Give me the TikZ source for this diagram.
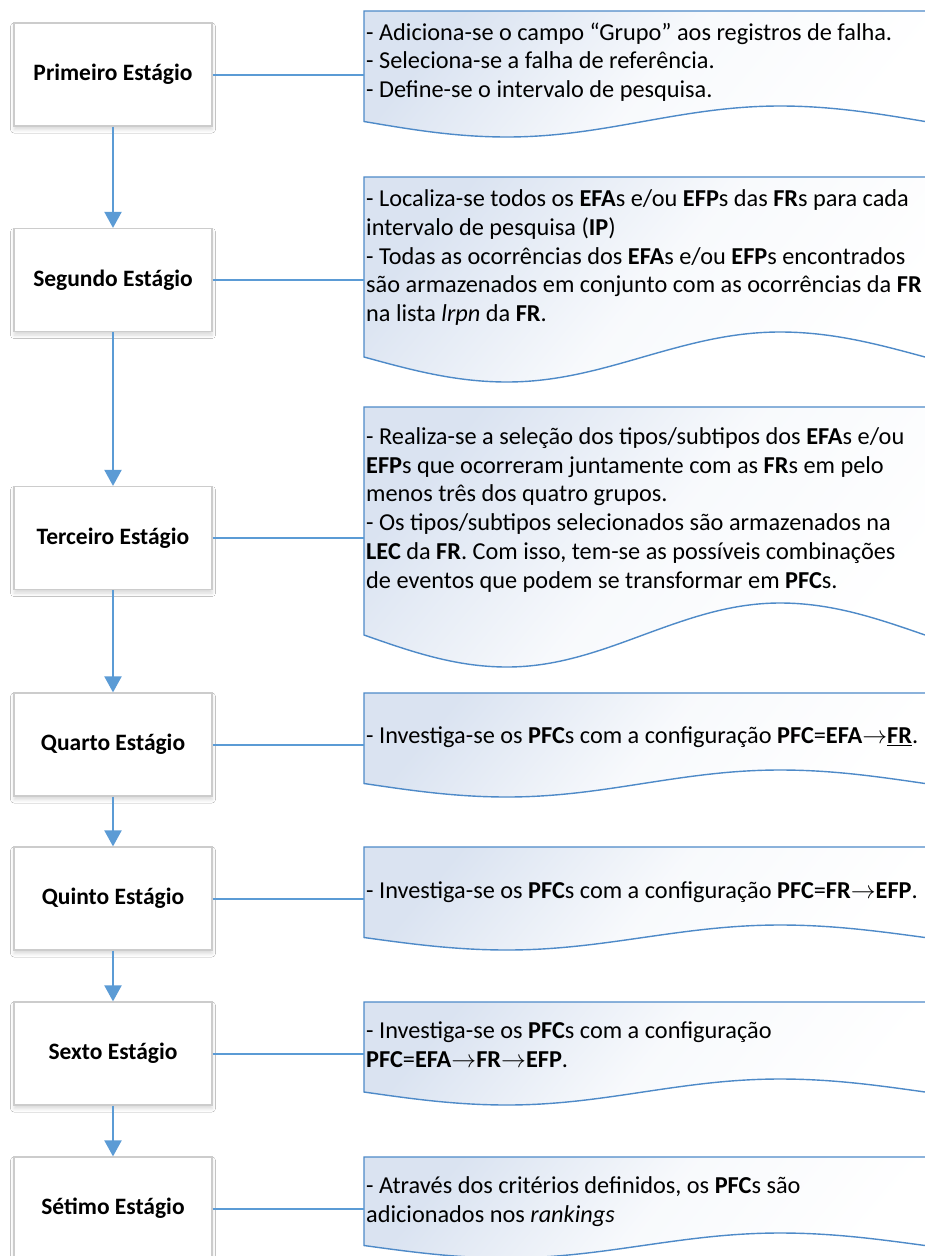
\documentclass[tikz,border=0pt]{standalone}
\usepackage{fontspec}
\setmainfont{Carlito}
\usetikzlibrary{arrows.meta,shadows.blur}
\definecolor{lineblue}{RGB}{91,155,213}
\definecolor{edgeblue}{RGB}{78,138,200}
\definecolor{boxgray}{RGB}{204,204,204}
\definecolor{fillblue}{RGB}{218,227,241}
\newcommand{\notebody}[3]{% top, mid, amplitude
  \path[note] (364,#2) -- (364,#1) -- (945,#1) -- (945,#2) -- (925,#2)
    sin (780,#2-#3) cos (643,#2) sin (507,#2+#3) cos (364,#2) -- cycle;}
\newcommand{\rarr}{$\rightarrow$}
\begin{document}
\begin{tikzpicture}[x=1pt,y=-1pt,
  stage/.style={draw=boxgray, line width=1.2pt, fill=white,
    minimum width=198pt, minimum height=103pt, inner sep=0pt,
    font=\fontsize{23.5}{28}\selectfont\bfseries,
    blur shadow={shadow xshift=0pt, shadow yshift=-3.5pt, shadow blur radius=3.5pt, shadow opacity=15}},
  conn/.style={draw=lineblue, line width=2pt},
  flow/.style={conn, -{Triangle[width=17pt,length=16pt]}},
  note/.style={draw=edgeblue, line width=1.4pt, shading=axis,
    top color=fillblue, bottom color=white, middle color=white!80!fillblue, shading angle=50},
  notetext/.style={anchor=base west, align=left, inner sep=0pt,
    font=\fontsize{24.3}{28.8}\selectfont}
]
\useasboundingbox (0,0) rectangle (925,1256);
\fill[white] (0,0) rectangle (925,1256);
\clip (0,0) rectangle (925,1256);

% callout shapes
\notebody{11}{121.5}{15.5}
\notebody{177}{357}{25}
\notebody{407}{635}{32}
\notebody{693}{783.5}{13.5}
\notebody{847}{937.5}{12.5}
\notebody{1002}{1092}{13}
\notebody{1157}{1245.5}{12.5}

% connector end points on callouts
\coordinate (c1) at (364,74.5);
\coordinate (c2) at (364,280);
\coordinate (c3) at (364,538);
\coordinate (c4) at (364,744.5);
\coordinate (c5) at (364,898.5);
\coordinate (c6) at (364,1053.5);
\coordinate (c7) at (364,1208.5);

% stage boxes
\node[stage] (s1) at (113,74.5) {Primeiro Estágio};
\node[stage] (s2) at (113,280) {Segundo Estágio};
\node[stage] (s3) at (113,538) {Terceiro Estágio};
\node[stage] (s4) at (113,744.5) {Quarto Estágio};
\node[stage] (s5) at (113,898.5) {Quinto Estágio};
\node[stage] (s6) at (113,1053.5) {Sexto Estágio};
\node[stage] (s7) at (113,1208.5) {Sétimo Estágio};

% texts (anchor = baseline of the last line)
\node[notetext] (t1) at (366,97.6) {- Adiciona-se o campo “Grupo” aos registros de falha.\\
- Seleciona-se a falha de referência.\\
- Define-se o intervalo de pesquisa.};
\node[notetext] (t2) at (366,321.7) {- Localiza-se todos os \textbf{EFA}s e/ou \textbf{EFP}s das \textbf{FR}s para cada\\
intervalo de pesquisa (\textbf{IP})\\
- Todas as ocorrências dos \textbf{EFA}s e/ou \textbf{EFP}s encontrados\\
são armazenados em conjunto com as ocorrências da \textbf{FR}\\
na lista \textit{lrpn} da \textbf{FR}.};
\node[notetext] (t3) at (366,588.3) {- Realiza-se a seleção dos tipos/subtipos dos \textbf{EFA}s e/ou\\
\textbf{EFP}s que ocorreram juntamente com as \textbf{FR}s em pelo\\
menos três dos quatro grupos.\\
- Os tipos/subtipos selecionados são armazenados na\\
\textbf{LEC} da \textbf{FR}. Com isso, tem-se as possíveis combinações\\
de eventos que podem se transformar em \textbf{PFC}s.};
\node[notetext] (t4) at (366,743.3) {- Investiga-se os \textbf{PFC}s com a configuração \textbf{PFC}=\textbf{EFA}\rarr\underline{\textbf{FR}}.};
\node[notetext] (t5) at (366,898.3) {- Investiga-se os \textbf{PFC}s com a configuração \textbf{PFC}=\textbf{FR}\rarr\textbf{EFP}.};
\node[notetext] (t6) at (366,1067.1) {- Investiga-se os \textbf{PFC}s com a configuração\\
\textbf{PFC}=\textbf{EFA}\rarr\textbf{FR}\rarr\textbf{EFP}.};
\node[notetext] (t7) at (366,1222.1) {- Através dos critérios definidos, os \textbf{PFC}s são\\
adicionados nos \textit{rankings}};

% connectors
\draw[conn] (s1.east) -- (c1);
\draw[conn] (s2.east) -- (c2);
\draw[conn] (s3.east) -- (c3);
\draw[conn] (s4.east) -- (c4);
\draw[conn] (s5.east) -- (c5);
\draw[conn] (s6.east) -- (c6);
\draw[conn] (s7.east) -- (c7);

\draw[flow] (s1.south) -- (s2.north);
\draw[flow] (s2.south) -- (s3.north);
\draw[flow] (s3.south) -- (s4.north);
\draw[flow] (s4.south) -- (s5.north);
\draw[flow] (s5.south) -- (s6.north);
\draw[flow] (s6.south) -- (s7.north);
\end{tikzpicture}
\end{document}
